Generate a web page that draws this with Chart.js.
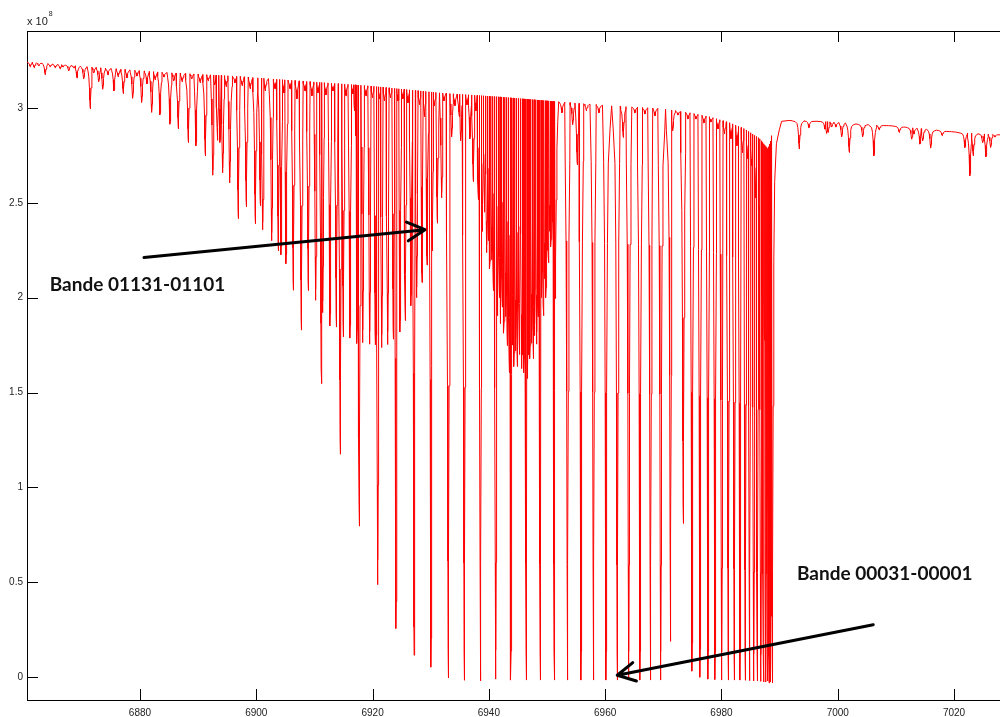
<!DOCTYPE html>
<html>
<head>
<meta charset="utf-8">
<title>Spectre CO2</title>
<script src="https://cdn.jsdelivr.net/npm/chart.js@4.4.0/dist/chart.umd.min.js"></script>
<style>
    html, body { margin: 0; padding: 0; background: #fff; }
    #wrap { width: 1000px; height: 717px; position: relative; }
</style>
</head>
<body>
<div id="wrap"><canvas id="spectrum"></canvas></div>
<script>
// Wavenumber in cm-1, intensity in units of 1e8

// Top of the trace (continuum)
const continuumX = [6860.5, 6873.1, 6884.6, 6896.0, 6907.5, 6919.5, 6931.6, 6941.9, 6952.2, 6960.8, 6969.4, 6974.6, 6978.0, 6981.5, 6984.0, 6986.6, 6988.0, 6989.4, 6991.8, 6998.0, 7003.8, 7009.5, 7015.2, 7021.0, 7028.0];
const continuumY = [3.242, 3.212, 3.186, 3.168, 3.142, 3.116, 3.079, 3.058, 3.032, 3.011, 2.997, 2.974, 2.953, 2.921, 2.889, 2.837, 2.784, 2.926, 2.934, 2.928, 2.914, 2.905, 2.888, 2.870, 2.858];

// Band 00031-00001: line centres and minimum reached
const mainX = [6907.74, 6911.18, 6914.44, 6917.71, 6920.88, 6924.02, 6927.15, 6930.04, 6933.02, 6935.77, 6938.56, 6941.17, 6943.80, 6946.43, 6948.84, 6951.23, 6953.52, 6955.84, 6957.99, 6960.14, 6962.08, 6964.04, 6965.98, 6967.79, 6969.54, 6971.23, 6973.43, 6974.93, 6976.30, 6977.68, 6978.88, 6980.03, 6981.17, 6982.20, 6983.18, 6984.09, 6984.83, 6985.54, 6986.16, 6986.76, 6987.21, 6987.57, 6987.88, 6988.19, 6988.48, 6988.75];
const mainY = [1.829, 1.547, 1.175, 0.796, 0.488, 0.257, 0.116, 0.053, -0.004, -0.016, -0.019, -0.01, -0.015, -0.015, -0.015, -0.015, -0.015, -0.015, -0.015, -0.015, -0.015, -0.015, -0.015, -0.015, -0.015, 0.189, 0.81, 0.032, 0.0, -0.01, -0.012, -0.015, -0.015, -0.015, -0.015, -0.016, -0.018, -0.02, -0.02, -0.022, -0.025, -0.025, -0.02, -0.03, -0.025, -0.03];

// Band 01131-01101 and the lines around it
const hotX = [6871.45, 6873.59, 6875.53, 6877.13, 6878.74, 6880.29, 6882.01, 6883.44, 6885.16, 6886.59, 6888.31, 6889.63, 6891.23, 6892.52, 6893.33, 6893.76, 6894.22, 6895.43, 6896.90, 6898.28, 6899.83, 6900.69, 6901.10, 6902.65, 6903.78, 6904.25, 6905.11, 6906.36,
    6908.94, 6910.21, 6911.42, 6912.67, 6913.76, 6914.96, 6916.11, 6917.32, 6918.30, 6919.50, 6920.46, 6921.57, 6922.60, 6923.56, 6924.71, 6925.62, 6926.60, 6927.58, 6928.50, 6929.36, 6930.27, 6931.13, 6931.88,
    6933.60, 6934.91, 6935.15, 6936.75, 6937.32, 6938.18, 6938.87, 6939.25, 6939.62, 6939.90, 6940.19, 6940.50, 6940.76, 6941.48, 6941.80, 6942.03, 6942.30, 6942.60, 6942.90, 6943.16, 6943.51, 6944.05, 6944.32, 6944.60, 6944.88, 6945.25, 6945.64, 6945.85, 6946.04, 6946.25, 6946.69, 6946.90, 6947.07, 6947.35, 6947.64, 6947.90, 6948.22, 6948.45, 6948.67, 6949.10, 6949.36, 6949.60, 6949.82, 6950.00, 6950.22, 6950.45, 6950.68, 6950.90, 6951.08, 6951.45];
const hotY = [2.995, 3.098, 3.089, 3.075, 3.05, 3.028, 2.976, 2.963, 2.914, 2.889, 2.817, 2.8, 2.747, 2.645, 2.829, 2.818, 2.658, 2.605, 2.416, 2.479, 2.389, 2.484, 2.358, 2.3, 2.247, 2.226, 2.179, 2.039,
    2.037, 1.986, 1.921, 1.851, 1.845, 1.793, 1.787, 1.759, 1.763, 1.755, 1.751, 1.737, 1.753, 1.781, 1.819, 1.879, 1.958, 2.0, 2.08, 2.172, 2.247, 2.392, 2.526,
    2.847, 2.953, 2.826, 2.837, 2.611, 2.516, 2.349, 2.45, 2.237, 2.3, 2.151, 2.2, 2.037, 1.905, 2.0, 1.863, 1.95, 1.813, 1.9, 1.747, 1.605, 1.75, 1.637, 1.72, 1.637, 1.7, 1.626, 1.7, 1.605, 1.68, 1.574, 1.7, 1.679, 1.76, 1.679, 1.8, 1.755, 1.9, 1.837, 2.0, 1.905, 2.1, 2.0, 2.25, 2.184, 2.35, 2.268, 2.4, 2.258, 1.995];

// Weak lines between the strong ones and past the band centre
const weakX = [6952.57, 6954.41, 6955.20, 6956.78, 6958.93, 6963.11, 6965.12, 6966.84, 6968.56, 6971.61, 6972.52, 6974.24, 6975.61, 6976.99, 6978.19, 6979.40, 6980.52, 6981.63, 6982.67, 6983.61, 6984.47, 6985.19, 6985.85, 6986.45, 6986.98, 6987.38, 6987.72, 6988.03, 6988.32, 6988.62,
    6993.38, 6995.05, 6997.80, 6998.09, 6998.37, 6998.95, 6999.69, 7000.67, 7001.98, 7004.28, 7006.22, 7007.13, 7010.58, 7012.71, 7013.10, 7014.14, 7014.60, 7015.98, 7017.97, 7021.87, 7022.73, 7023.30, 7024.92, 7025.49, 7026.29, 7027.03];
const weakY = [2.974, 2.911, 2.7, 2.984, 2.974, 2.844, 2.974, 2.968, 2.958, 2.879, 2.963, 2.942, 2.942, 2.921, 2.926, 2.889, 2.863, 2.837, 2.8, 2.763, 2.732, 2.695, 2.526, 2.463, 1.989, 1.774, 1.179, 0.858, 0.6, 0.321,
    2.783, 2.896, 2.888, 2.865, 2.871, 2.9, 2.9, 2.847, 2.765, 2.847, 2.747, 2.884, 2.87, 2.835, 2.862, 2.809, 2.826, 2.788, 2.853, 2.791, 2.642, 2.747, 2.817, 2.742, 2.791, 2.847];

// Small dips along the top of the trace
const noiseX = [6861.13, 6861.82, 6862.58, 6863.71, 6864.57, 6865.43, 6866.29, 6866.76, 6867.74, 6868.60, 6869.17, 6870.32, 6872.04, 6872.90, 6874.50, 6876.27, 6877.76, 6879.48, 6881.20, 6882.63, 6884.13, 6885.80, 6887.27, 6888.89, 6890.37, 6891.75, 6892.85, 6894.84, 6896.34, 6897.59, 6898.97, 6901.55, 6903.22, 6904.76, 6905.80, 6907.00, 6908.38, 6909.58, 6910.61, 6911.99, 6913.19, 6915.43, 6916.63, 6916.89, 6917.11, 6918.87, 6919.98, 6921.19, 6922.05, 6923.08, 6924.37, 6925.23, 6926.09, 6928.07, 6928.93, 6930.64, 6932.28, 6934.17, 6936.23, 6937.78];
const noiseY = [3.216, 3.211, 3.221, 3.174, 3.216, 3.211, 3.205, 3.216, 3.195, 3.211, 3.158, 3.153, 3.184, 3.137, 3.174, 3.163, 3.158, 3.168, 3.126, 3.147, 3.163, 3.142, 3.137, 3.153, 3.132, 3.142, 3.121, 3.111, 3.132, 3.116, 3.1, 3.089, 3.1, 3.079, 3.1, 3.047, 3.089, 3.063, 3.079, 3.068, 3.089, 3.063, 3.074, 2.984, 2.853, 3.063, 3.053, 3.047, 3.037, 3.053, 3.037, 3.047, 3.026, 3.016, 2.953, 3.011, 3.037, 3.011, 3.016, 2.984];

const xTicks = [6880, 6900, 6920, 6940, 6960, 6980, 7000, 7020];
const yTicks = [0, 0.5, 1, 1.5, 2, 2.5, 3];

// Shape of one absorption line: offset from centre (cm-1), share of the dip
const LINE_SHAPE = [[0, 1], [0.03, 0.95], [0.07, 0.8], [0.14, 0.5], [0.25, 0.24], [0.4, 0.1], [0.7, 0.04], [1.2, 0.015]];
const MAX_HALF = 1.6;
const TICK = 11;

function topAt(x) {
    let i = 1;
    while (i < continuumX.length - 1 && continuumX[i] < x) i++;
    const x0 = continuumX[i - 1], x1 = continuumX[i];
    const t = Math.max(0, Math.min(1, (x - x0) / (x1 - x0)));
    return continuumY[i - 1] + t * (continuumY[i] - continuumY[i - 1]);
}

// Build the trace from the line list
function buildTrace() {
    const lines = [];
    [[mainX, mainY], [hotX, hotY], [weakX, weakY], [noiseX, noiseY]].forEach(([xs, ys]) => {
        xs.forEach((x, i) => lines.push({ x: x, y: ys[i] }));
    });
    lines.sort((a, b) => a.x - b.x);

    const pts = [];
    const spans = [];
    lines.forEach((ln, i) => {
        const prev = i > 0 ? lines[i - 1].x : -Infinity;
        const next = i < lines.length - 1 ? lines[i + 1].x : Infinity;
        const left = Math.min(MAX_HALF, (ln.x - prev) / 2);
        const right = Math.min(MAX_HALF, (next - ln.x) / 2);
        const depth = topAt(ln.x) - ln.y;
        spans.push([ln.x - left, ln.x + right]);

        pts.push({ x: ln.x - left, y: topAt(ln.x - left) });
        for (let k = LINE_SHAPE.length - 1; k >= 1; k--) {
            const [dx, f] = LINE_SHAPE[k];
            if (dx < left) pts.push({ x: ln.x - dx, y: topAt(ln.x - dx) - depth * f });
        }
        pts.push({ x: ln.x, y: ln.y });
        for (let k = 1; k < LINE_SHAPE.length; k++) {
            const [dx, f] = LINE_SHAPE[k];
            if (dx < right) pts.push({ x: ln.x + dx, y: topAt(ln.x + dx) - depth * f });
        }
        pts.push({ x: ln.x + right, y: topAt(ln.x + right) });
    });

    continuumX.forEach((x, i) => {
        const inside = spans.some(s => x >= s[0] && x <= s[1]);
        if (!inside) pts.push({ x: x, y: continuumY[i] });
    });
    pts.sort((a, b) => a.x - b.x);
    return pts;
}

// Band labels with their arrows
const annotations = [
    { text: 'Bande 01131-01101', at: [6864.47, 2.037], from: [6880.69, 2.211], to: [6929.01, 2.358] },
    { text: 'Bande 00031-00001', at: [6992.98, 0.511], from: [7006.10, 0.277], to: [6962.08, 0.0105] }
];

const insideTicks = {
    id: 'insideTicks',
    afterDraw(chart) {
        const { ctx, chartArea: a, scales: { x, y } } = chart;
        ctx.save();
        ctx.strokeStyle = '#000';
        ctx.lineWidth = 1;
        ctx.beginPath();
        xTicks.forEach(v => {
            const p = Math.round(x.getPixelForValue(v)) + 0.5;
            ctx.moveTo(p, a.bottom);
            ctx.lineTo(p, a.bottom - TICK);
            ctx.moveTo(p, a.top);
            ctx.lineTo(p, a.top + TICK);
        });
        yTicks.forEach(v => {
            const p = Math.round(y.getPixelForValue(v)) + 0.5;
            ctx.moveTo(a.left, p);
            ctx.lineTo(a.left + TICK, p);
        });
        ctx.stroke();

        // exponent of the y axis
        ctx.fillStyle = '#222';
        ctx.textBaseline = 'alphabetic';
        ctx.font = '11px "Liberation Sans", Arial, sans-serif';
        ctx.fillText('x 10', a.left, a.top - 6);
        const w = ctx.measureText('x 10').width;
        ctx.font = '7px "Liberation Sans", Arial, sans-serif';
        ctx.fillText('8', a.left + w + 1, a.top - 15);
        ctx.restore();
    }
};

const bandNotes = {
    id: 'bandNotes',
    afterDraw(chart) {
        const { ctx, scales: { x, y } } = chart;
        ctx.save();
        annotations.forEach(n => {
            const x0 = x.getPixelForValue(n.from[0]), y0 = y.getPixelForValue(n.from[1]);
            const x1 = x.getPixelForValue(n.to[0]), y1 = y.getPixelForValue(n.to[1]);
            const ang = Math.atan2(y0 - y1, x0 - x1);
            const head = 20, spread = 28 * Math.PI / 180;
            ctx.strokeStyle = '#000';
            ctx.lineWidth = 3;
            ctx.lineCap = 'round';
            ctx.lineJoin = 'round';
            ctx.beginPath();
            ctx.moveTo(x0, y0);
            ctx.lineTo(x1, y1);
            ctx.moveTo(x1 + head * Math.cos(ang - spread), y1 + head * Math.sin(ang - spread));
            ctx.lineTo(x1, y1);
            ctx.lineTo(x1 + head * Math.cos(ang + spread), y1 + head * Math.sin(ang + spread));
            ctx.stroke();

            ctx.fillStyle = '#111';
            ctx.font = 'bold 19px Lato, "Open Sans", sans-serif';
            ctx.textBaseline = 'alphabetic';
            ctx.fillText(n.text, x.getPixelForValue(n.at[0]), y.getPixelForValue(n.at[1]));
        });
        ctx.restore();
    }
};

const X_MIN = 6860.57, X_MAX = 7027.9;
const tickFont = { family: '"Liberation Sans", Arial, sans-serif', size: 10 };

new Chart(document.getElementById('spectrum'), {
    type: 'line',
    data: {
        datasets: [{
            data: buildTrace(),
            borderColor: '#ff0000',
            borderWidth: 1,
            pointRadius: 0,
            tension: 0,
            fill: false
        }]
    },
    options: {
        responsive: true,
        maintainAspectRatio: false,
        animation: false,
        parsing: false,
        normalized: true,
        events: [],
        layout: { padding: { top: 31, right: 0, bottom: 0, left: 0 } },
        plugins: { legend: { display: false }, tooltip: { enabled: false } },
        scales: {
            x: {
                type: 'linear',
                position: 'bottom',
                min: X_MIN,
                max: X_MAX,
                afterBuildTicks: s => { s.ticks = xTicks.map(v => ({ value: v })); },
                afterFit: s => { s.height = 17; },
                grid: { display: false, drawTicks: false },
                border: { display: true, color: '#000', width: 1 },
                ticks: { font: tickFont, color: '#222', padding: 7, maxRotation: 0, autoSkip: false, callback: v => String(v) }
            },
            xTop: {
                type: 'linear',
                position: 'top',
                min: X_MIN,
                max: X_MAX,
                afterFit: s => { s.height = 0; },
                grid: { display: false, drawTicks: false },
                border: { display: true, color: '#000', width: 1 },
                ticks: { display: false }
            },
            y: {
                type: 'linear',
                min: -0.12,
                max: 3.405,
                afterBuildTicks: s => { s.ticks = yTicks.map(v => ({ value: v })); },
                afterFit: s => { s.width = 27; },
                grid: { display: false, drawTicks: false },
                border: { display: true, color: '#000', width: 1 },
                ticks: { font: tickFont, color: '#222', padding: 4, autoSkip: false, callback: v => String(v) }
            }
        }
    },
    plugins: [insideTicks, bandNotes]
});
</script>
</body>
</html>
